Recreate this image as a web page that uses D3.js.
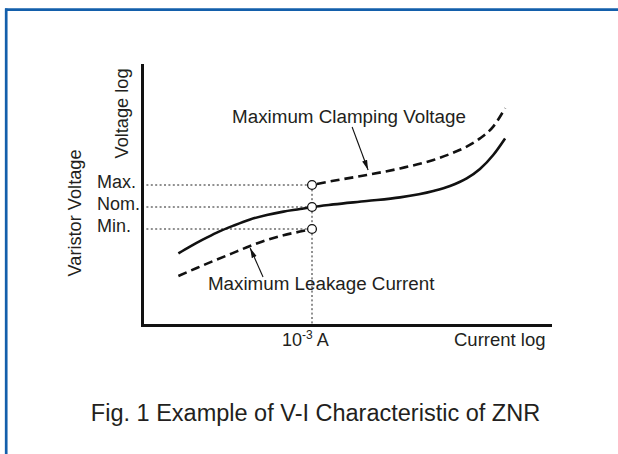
<!DOCTYPE html>
<html>
<head>
<meta charset="utf-8">
<script src="https://cdn.jsdelivr.net/npm/d3@7"></script>
<style>
body { margin: 0; background: #fff; }
text { font-family: "Liberation Sans", Arial, sans-serif; fill: #231f20; }
</style>
</head>
<body>
<svg width="618" height="454"></svg>
<script>
// x = log current (arbitrary decades), y = log voltage (arbitrary units)
var nomX = [1.07, 1.41, 1.8, 2.2, 2.69, 3.18, 3.67, 4.16, 4.65, 5, 5.63, 6.61, 7.59, 8.57, 9.06, 9.55, 9.94, 10.33, 10.68];
var nomY = [3.58, 3.92, 4.28, 4.62, 4.97, 5.28, 5.5, 5.67, 5.8, 5.9, 6.03, 6.2, 6.38, 6.7, 6.95, 7.33, 7.8, 8.5, 9.33];

var clampX = [5, 5.63, 6.61, 7.59, 8.57, 9.06, 9.55, 9.94, 10.33, 10.68];
var clampY = [7.0, 7.21, 7.5, 7.83, 8.25, 8.55, 8.92, 9.33, 9.92, 10.84];

var leakX = [1.07, 1.61, 2.2, 2.79, 3.18, 3.67, 4.16, 4.65, 5];
var leakY = [2.45, 2.85, 3.27, 3.68, 3.95, 4.25, 4.49, 4.67, 4.8];

var refCurrent = 5; // 10^-3 A
var levelNames = ["Max.", "Nom.", "Min."];
var levelValues = [7.0, 5.9, 4.8];

var svg = d3.select("svg");
var W = 618, H = 454;

// frame (top + left only)
svg.append("line").attr("x1", 5).attr("x2", W).attr("y1", 9.7).attr("y2", 9.7)
    .attr("stroke", "#135fab").attr("stroke-width", 2.7);
svg.append("line").attr("x1", 6.2).attr("x2", 6.2).attr("y1", 8.4).attr("y2", H)
    .attr("stroke", "#135fab").attr("stroke-width", 2.7);

var x = d3.scaleLinear().domain([0, 12]).range([142, 550]);
var y = d3.scaleLinear().domain([0, 13]).range([325, 65]);

svg.append("defs").append("marker")
    .attr("id", "head")
    .attr("markerUnits", "userSpaceOnUse")
    .attr("viewBox", "0 0 10 6")
    .attr("refX", 10).attr("refY", 3)
    .attr("markerWidth", 10).attr("markerHeight", 6)
    .attr("orient", "auto")
    .append("path").attr("d", "M0,0.4L10,3L0,5.6Z").attr("fill", "#111");

// dotted guides
var guides = svg.append("g").attr("stroke", "#222").attr("stroke-width", 1)
    .attr("stroke-dasharray", "2,2.4").attr("fill", "none");
guides.selectAll("line.h").data(levelValues).enter().append("line")
    .attr("x1", x(0)).attr("x2", x(refCurrent))
    .attr("y1", function(d) { return y(d); })
    .attr("y2", function(d) { return y(d); });
guides.append("line")
    .attr("x1", x(refCurrent)).attr("x2", x(refCurrent))
    .attr("y1", y(d3.max(levelValues))).attr("y2", y(0));

// axes
var xAxis = svg.append("g").attr("transform", "translate(0," + y(0) + ")")
    .call(d3.axisBottom(x).tickValues([]).tickSizeOuter(0));
var yAxis = svg.append("g").attr("transform", "translate(" + x(0) + ",0)")
    .call(d3.axisLeft(y).tickValues([]).tickSizeOuter(0));
svg.selectAll(".domain").attr("stroke", "#111").attr("stroke-width", 3)
    .attr("stroke-linecap", "square");

// curves
var line = d3.line()
    .x(function(d) { return x(d[0]); })
    .y(function(d) { return y(d[1]); })
    .curve(d3.curveMonotoneX);

svg.append("path").datum(d3.zip(nomX, nomY)).attr("d", line)
    .attr("fill", "none").attr("stroke", "#111").attr("stroke-width", 2.6);
svg.append("path").datum(d3.zip(clampX, clampY)).attr("d", line)
    .attr("fill", "none").attr("stroke", "#111").attr("stroke-width", 2.6)
    .attr("stroke-dasharray", "9,5").attr("stroke-dashoffset", -5);
svg.append("path").datum(d3.zip(leakX, leakY)).attr("d", line)
    .attr("fill", "none").attr("stroke", "#111").attr("stroke-width", 2.6)
    .attr("stroke-dasharray", "9,5");

// circles at 10^-3 A
svg.selectAll("circle").data(levelValues).enter().append("circle")
    .attr("cx", x(refCurrent))
    .attr("cy", function(d) { return y(d); })
    .attr("r", 4.4)
    .attr("fill", "#fff").attr("stroke", "#111").attr("stroke-width", 1.3);

// level labels
svg.selectAll("text.lvl").data(levelValues).enter().append("text")
    .attr("class", "lvl")
    .attr("x", 97)
    .attr("y", function(d) { return y(d) + 3; })
    .attr("font-size", 18)
    .text(function(d, i) { return levelNames[i]; });

// annotations
svg.append("text").attr("x", x(2.65)).attr("y", y(10.12)).attr("font-size", 18.8)
    .text("Maximum Clamping Voltage");
svg.append("line")
    .attr("x1", x(6.18)).attr("y1", y(9.9)).attr("x2", x(6.65)).attr("y2", y(7.75))
    .attr("stroke", "#111").attr("stroke-width", 1.1).attr("marker-end", "url(#head)");

svg.append("text").attr("x", x(1.94)).attr("y", y(1.75)).attr("font-size", 18.8)
    .text("Maximum Leakage Current");
svg.append("line")
    .attr("x1", x(3.56)).attr("y1", y(2.4)).attr("x2", x(3.18)).attr("y2", y(3.85))
    .attr("stroke", "#111").attr("stroke-width", 1.1).attr("marker-end", "url(#head)");

// axis titles
svg.append("text").attr("transform", "translate(81,213) rotate(-90)")
    .attr("text-anchor", "middle").attr("font-size", 18.2).text("Varistor Voltage");
svg.append("text").attr("transform", "translate(128,113.5) rotate(-90)")
    .attr("text-anchor", "middle").attr("font-size", 18.2).text("Voltage log");

var ref = svg.append("text").attr("x", 282).attr("y", 346).attr("font-size", 18);
ref.append("tspan").text("10");
ref.append("tspan").attr("font-size", 12).attr("dy", -7).text("-3");
ref.append("tspan").attr("dy", 7).text(" A");

svg.append("text").attr("x", 454).attr("y", 346).attr("font-size", 18.5).text("Current log");

// caption
svg.append("text").attr("x", 315.5).attr("y", 421).attr("text-anchor", "middle")
    .attr("font-size", 23.5).text("Fig. 1 Example of V-I Characteristic of ZNR");
</script>
</body>
</html>
